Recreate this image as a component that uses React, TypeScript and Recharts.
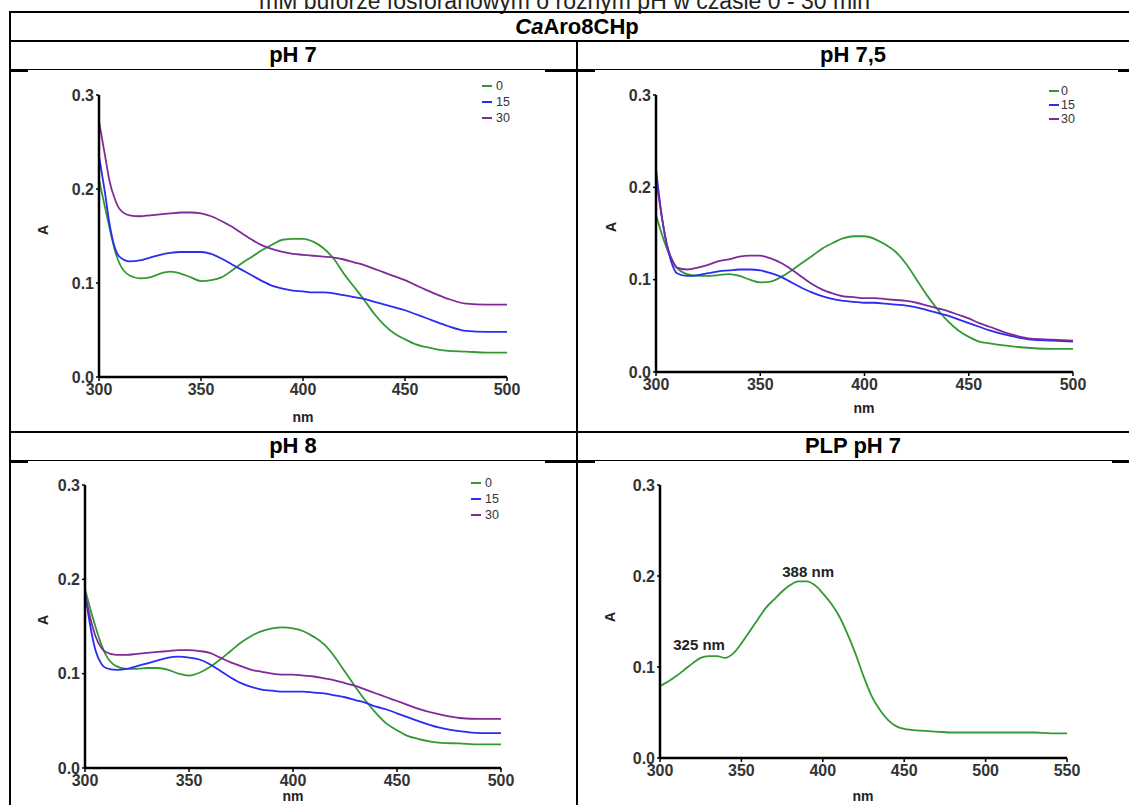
import React from "react";
import { LineChart, Line, XAxis, YAxis, Legend, ReferenceDot } from "recharts";

const FONT = '"Liberation Sans", Arial, Helvetica, sans-serif';

// wavelength grid (nm) read for the three CaAro8CHp panels
const nmGrid = [300, 303, 305, 308, 310, 315, 320, 325, 330, 335, 340, 345, 350, 355, 360, 365, 370, 375, 380, 385, 390, 395, 400, 405, 410, 415, 420, 425, 430, 435, 440, 445, 450, 455, 460, 470, 480, 490, 500];

// pH 7
const ph7_t0 = [0.21, 0.18, 0.16, 0.133, 0.121, 0.108, 0.105, 0.106, 0.11, 0.112, 0.11, 0.106, 0.102, 0.103, 0.106, 0.113, 0.121, 0.128, 0.135, 0.141, 0.146, 0.147, 0.147, 0.144, 0.137, 0.126, 0.11, 0.096, 0.082, 0.067, 0.055, 0.046, 0.04, 0.035, 0.032, 0.028, 0.027, 0.026, 0.026];
const ph7_t15 = [0.235, 0.195, 0.165, 0.136, 0.128, 0.123, 0.124, 0.127, 0.13, 0.132, 0.133, 0.133, 0.133, 0.131, 0.126, 0.12, 0.114, 0.108, 0.102, 0.097, 0.094, 0.092, 0.091, 0.09, 0.09, 0.089, 0.087, 0.085, 0.083, 0.08, 0.077, 0.074, 0.071, 0.067, 0.063, 0.055, 0.049, 0.048, 0.048];
const ph7_t30 = [0.272, 0.235, 0.21, 0.188, 0.179, 0.172, 0.171, 0.172, 0.173, 0.174, 0.175, 0.175, 0.174, 0.171, 0.166, 0.16, 0.153, 0.146, 0.14, 0.136, 0.133, 0.131, 0.13, 0.129, 0.128, 0.127, 0.125, 0.122, 0.119, 0.115, 0.111, 0.107, 0.103, 0.098, 0.093, 0.084, 0.078, 0.077, 0.077];

// pH 7,5
const ph75_t0 = [0.17, 0.148, 0.135, 0.12, 0.113, 0.106, 0.104, 0.104, 0.105, 0.106, 0.104, 0.1, 0.097, 0.098, 0.103, 0.11, 0.118, 0.126, 0.134, 0.14, 0.145, 0.147, 0.147, 0.144, 0.138, 0.13, 0.117, 0.1, 0.083, 0.068, 0.055, 0.045, 0.038, 0.033, 0.031, 0.028, 0.026, 0.025, 0.025];
const ph75_t15 = [0.22, 0.165, 0.14, 0.115, 0.107, 0.104, 0.105, 0.107, 0.109, 0.11, 0.111, 0.111, 0.11, 0.107, 0.103, 0.097, 0.091, 0.086, 0.082, 0.079, 0.077, 0.076, 0.075, 0.075, 0.074, 0.073, 0.072, 0.07, 0.067, 0.064, 0.061, 0.057, 0.053, 0.049, 0.045, 0.039, 0.035, 0.034, 0.033];
const ph75_t30 = [0.21, 0.165, 0.14, 0.12, 0.113, 0.111, 0.113, 0.116, 0.12, 0.122, 0.125, 0.126, 0.126, 0.123, 0.118, 0.111, 0.103, 0.095, 0.089, 0.085, 0.082, 0.081, 0.08, 0.08, 0.079, 0.078, 0.077, 0.075, 0.072, 0.069, 0.066, 0.062, 0.058, 0.053, 0.049, 0.041, 0.036, 0.035, 0.034];

// pH 8
const ph8_t0 = [0.19, 0.165, 0.15, 0.13, 0.12, 0.108, 0.105, 0.105, 0.106, 0.106, 0.104, 0.1, 0.098, 0.101, 0.107, 0.115, 0.124, 0.133, 0.14, 0.145, 0.148, 0.149, 0.148, 0.145, 0.139, 0.131, 0.118, 0.102, 0.086, 0.071, 0.058, 0.047, 0.04, 0.034, 0.031, 0.027, 0.026, 0.025, 0.025];
const ph8_t15 = [0.185, 0.145, 0.125, 0.11, 0.106, 0.104, 0.105, 0.108, 0.111, 0.114, 0.117, 0.118, 0.117, 0.115, 0.11, 0.103, 0.096, 0.09, 0.086, 0.083, 0.082, 0.081, 0.081, 0.081, 0.08, 0.079, 0.077, 0.075, 0.072, 0.069, 0.065, 0.062, 0.058, 0.054, 0.05, 0.043, 0.039, 0.037, 0.037];
const ph8_t30 = [0.185, 0.155, 0.14, 0.127, 0.123, 0.12, 0.12, 0.121, 0.122, 0.123, 0.124, 0.125, 0.125, 0.124, 0.122, 0.117, 0.112, 0.108, 0.104, 0.102, 0.1, 0.099, 0.099, 0.098, 0.097, 0.095, 0.093, 0.09, 0.087, 0.083, 0.079, 0.075, 0.071, 0.067, 0.063, 0.057, 0.053, 0.052, 0.052];

// PLP pH 7
const plpNm = [300, 305, 310, 315, 320, 325, 330, 335, 340, 345, 350, 355, 360, 365, 370, 375, 380, 385, 390, 395, 400, 405, 410, 415, 420, 425, 430, 435, 440, 445, 450, 460, 470, 480, 490, 500, 510, 520, 530, 540, 550];
const plpA = [0.079, 0.084, 0.09, 0.097, 0.104, 0.11, 0.112, 0.112, 0.11, 0.115, 0.126, 0.139, 0.152, 0.165, 0.174, 0.183, 0.19, 0.194, 0.194, 0.19, 0.181, 0.17, 0.156, 0.137, 0.115, 0.09, 0.068, 0.053, 0.042, 0.035, 0.032, 0.03, 0.029, 0.028, 0.028, 0.028, 0.028, 0.028, 0.028, 0.027, 0.027];
const plpPeaks = [
  { label: "325 nm", nm: 324, a: 0.124 },
  { label: "388 nm", nm: 391, a: 0.205 },
];

const timeNames = ["0", "15", "30"];
const nmTicks = [300, 350, 400, 450, 500];
const plpTicks = [300, 350, 400, 450, 500, 550];
const aTicks = [0, 0.1, 0.2, 0.3];

const SERIES_COLORS = ["#339933", "#2b2bf2", "#7e2a9a"];

function toRows(nm: number[], cols: number[][]) {
  return nm.map((x, i) => {
    const r: Record<string, number> = { nm: x };
    cols.forEach((c, j) => (r["s" + j] = c[i]));
    return r;
  });
}

type Box = { left: number; top: number; width: number; height: number };
type Plot = { x0: number; x1: number; y0: number; y1: number };
type Pt = { x: number; y: number };

function Panel(props: {
  box: Box;
  plot: Plot;
  rows: Record<string, number>[];
  names: string[];
  xTicks: number[];
  aTitle: Pt;
  nmTitle: Pt;
  legend?: { markerX: number; textX: number; rowY: number[] };
  notes?: { label: string; nm: number; a: number }[];
}) {
  const { box, plot, rows, names, xTicks, aTitle, nmTitle, legend, notes } = props;
  const YW = 60;
  const XH = 30;
  const margin = {
    left: plot.x0 - box.left - YW,
    top: plot.y0 - box.top,
    right: box.left + box.width - plot.x1,
    bottom: box.top + box.height - plot.y1 - XH,
  };
  const tickStyle = { fill: "#333", fontSize: 16, fontWeight: 700, fontFamily: FONT };
  const titleStyle = { fill: "#222", fontSize: 14, fontWeight: 700, fontFamily: FONT };

  return (
    <div style={{ position: "absolute", left: box.left, top: box.top }}>
      <LineChart width={box.width} height={box.height} data={rows} margin={margin}>
        <XAxis
          type="number"
          dataKey="nm"
          domain={[xTicks[0], xTicks[xTicks.length - 1]]}
          ticks={xTicks}
          interval={0}
          allowDataOverflow
          height={XH}
          axisLine={{ stroke: "#000", strokeWidth: 2.5 }}
          tickLine={{ stroke: "#000", strokeWidth: 1.5 }}
          tickSize={4}
          tickMargin={3}
          tick={tickStyle}
          label={{
            content: () => (
              <text x={nmTitle.x - box.left} y={nmTitle.y - box.top} textAnchor="middle" dominantBaseline="central" {...titleStyle}>
                nm
              </text>
            ),
          }}
        />
        <YAxis
          type="number"
          domain={[0, 0.3]}
          ticks={aTicks}
          interval={0}
          allowDataOverflow
          width={YW}
          axisLine={{ stroke: "#000", strokeWidth: 2.5 }}
          tickLine={{ stroke: "#000", strokeWidth: 1.5 }}
          tickSize={3}
          tickMargin={2}
          tick={tickStyle}
          tickFormatter={(v: number) => v.toFixed(1)}
          label={{
            content: () => {
              const x = aTitle.x - box.left;
              const y = aTitle.y - box.top;
              return (
                <text x={x} y={y} transform={`rotate(-90 ${x} ${y})`} textAnchor="middle" dominantBaseline="central" {...titleStyle}>
                  A
                </text>
              );
            },
          }}
        />
        {names.map((n, i) => (
          <Line
            key={n}
            type="monotone"
            dataKey={"s" + i}
            name={n}
            stroke={SERIES_COLORS[i]}
            strokeWidth={1.8}
            dot={false}
            isAnimationActive={false}
          />
        ))}
        {notes &&
          notes.map((p) => (
            <ReferenceDot
              key={p.label}
              x={p.nm}
              y={p.a}
              r={0}
              label={{ value: p.label, position: "center", fill: "#222", fontSize: 15, fontWeight: 700, fontFamily: FONT }}
            />
          ))}
        {legend && (
          <Legend
            layout="vertical"
            align="center"
            verticalAlign="top"
            wrapperStyle={{ left: 0, top: 0, width: box.width, height: 0, pointerEvents: "none" }}
            content={() => (
              <div style={{ position: "relative" }}>
                {names.map((n, i) => (
                  <div
                    key={n}
                    style={{
                      position: "absolute",
                      left: legend.markerX - box.left,
                      top: legend.rowY[i] - box.top - 7,
                      height: 14,
                      display: "flex",
                      alignItems: "center",
                      fontFamily: FONT,
                      fontSize: 12.5,
                      color: "#333",
                      whiteSpace: "nowrap",
                    }}
                  >
                    <span
                      style={{
                        display: "inline-block",
                        width: 10,
                        height: 2.5,
                        background: SERIES_COLORS[i],
                        marginRight: legend.textX - legend.markerX - 10,
                      }}
                    />
                    {n}
                  </div>
                ))}
              </div>
            )}
          />
        )}
      </LineChart>
    </div>
  );
}

function Rule({ x, y, w, h }: { x: number; y: number; w: number; h: number }) {
  return <div style={{ position: "absolute", left: x, top: y, width: w, height: h, background: "#000" }} />;
}

function Head({ cx, cy, children }: { cx: number; cy: number; children: React.ReactNode }) {
  return (
    <div
      style={{
        position: "absolute",
        left: cx - 200,
        top: cy - 13,
        width: 400,
        height: 26,
        lineHeight: "26px",
        textAlign: "center",
        fontFamily: FONT,
        fontSize: 22,
        fontWeight: 700,
        color: "#000",
      }}
    >
      {children}
    </div>
  );
}

export default function App() {
  const rows7 = toRows(nmGrid, [ph7_t0, ph7_t15, ph7_t30]);
  const rows75 = toRows(nmGrid, [ph75_t0, ph75_t15, ph75_t30]);
  const rows8 = toRows(nmGrid, [ph8_t0, ph8_t15, ph8_t30]);
  const rowsPlp = toRows(plpNm, [plpA]);

  return (
    <div style={{ position: "absolute", left: 0, top: 0, width: 1129, height: 805, overflow: "hidden", background: "#fff" }}>
      <div
        style={{
          position: "absolute",
          left: 0,
          top: -12,
          width: 1129,
          textAlign: "center",
          fontFamily: FONT,
          fontSize: 23,
          color: "#222",
          lineHeight: "26px",
        }}
      >
        mM buforze fosforanowym o różnym pH w czasie 0 - 30 min
      </div>

      {/* table rules */}
      <Rule x={9} y={11} w={1120} h={2} />
      <Rule x={9} y={40} w={1120} h={2} />
      <Rule x={9} y={69} w={1120} h={1} />
      <Rule x={9} y={431} w={1120} h={2} />
      <Rule x={9} y={460} w={1120} h={1} />
      <Rule x={9} y={11} w={2} h={794} />
      <Rule x={576} y={41} w={2} h={764} />
      <Rule x={9} y={69} w={19} h={3} />
      <Rule x={545} y={69} w={50} h={3} />
      <Rule x={1118} y={69} w={11} h={3} />
      <Rule x={9} y={460} w={19} h={3} />
      <Rule x={545} y={460} w={50} h={3} />
      <Rule x={1112} y={460} w={17} h={3} />

      <Head cx={577} cy={27}>
        <i>Ca</i>Aro8CHp
      </Head>
      <Head cx={293} cy={55}>pH 7</Head>
      <Head cx={853} cy={55}>pH 7,5</Head>
      <Head cx={293} cy={446}>pH 8</Head>
      <Head cx={853} cy={446}>PLP pH 7</Head>

      <Panel
        box={{ left: 11, top: 72, width: 565, height: 359 }}
        plot={{ x0: 99, x1: 507, y0: 95, y1: 377 }}
        rows={rows7}
        names={timeNames}
        xTicks={nmTicks}
        aTitle={{ x: 43, y: 230 }}
        nmTitle={{ x: 303, y: 417 }}
        legend={{ markerX: 482, textX: 496, rowY: [86, 102, 118] }}
      />
      <Panel
        box={{ left: 578, top: 72, width: 551, height: 359 }}
        plot={{ x0: 656, x1: 1073, y0: 95, y1: 372 }}
        rows={rows75}
        names={timeNames}
        xTicks={nmTicks}
        aTitle={{ x: 611, y: 227 }}
        nmTitle={{ x: 864, y: 408 }}
        legend={{ markerX: 1049, textX: 1061, rowY: [91, 105, 119] }}
      />
      <Panel
        box={{ left: 11, top: 463, width: 565, height: 342 }}
        plot={{ x0: 85, x1: 501, y0: 485, y1: 768 }}
        rows={rows8}
        names={timeNames}
        xTicks={nmTicks}
        aTitle={{ x: 43, y: 620 }}
        nmTitle={{ x: 293, y: 796 }}
        legend={{ markerX: 471, textX: 485, rowY: [483, 499, 515] }}
      />
      <Panel
        box={{ left: 578, top: 463, width: 551, height: 342 }}
        plot={{ x0: 660, x1: 1067, y0: 485, y1: 758 }}
        rows={rowsPlp}
        names={["PLP"]}
        xTicks={plpTicks}
        aTitle={{ x: 610, y: 617 }}
        nmTitle={{ x: 863, y: 796 }}
        notes={plpPeaks}
      />
    </div>
  );
}
